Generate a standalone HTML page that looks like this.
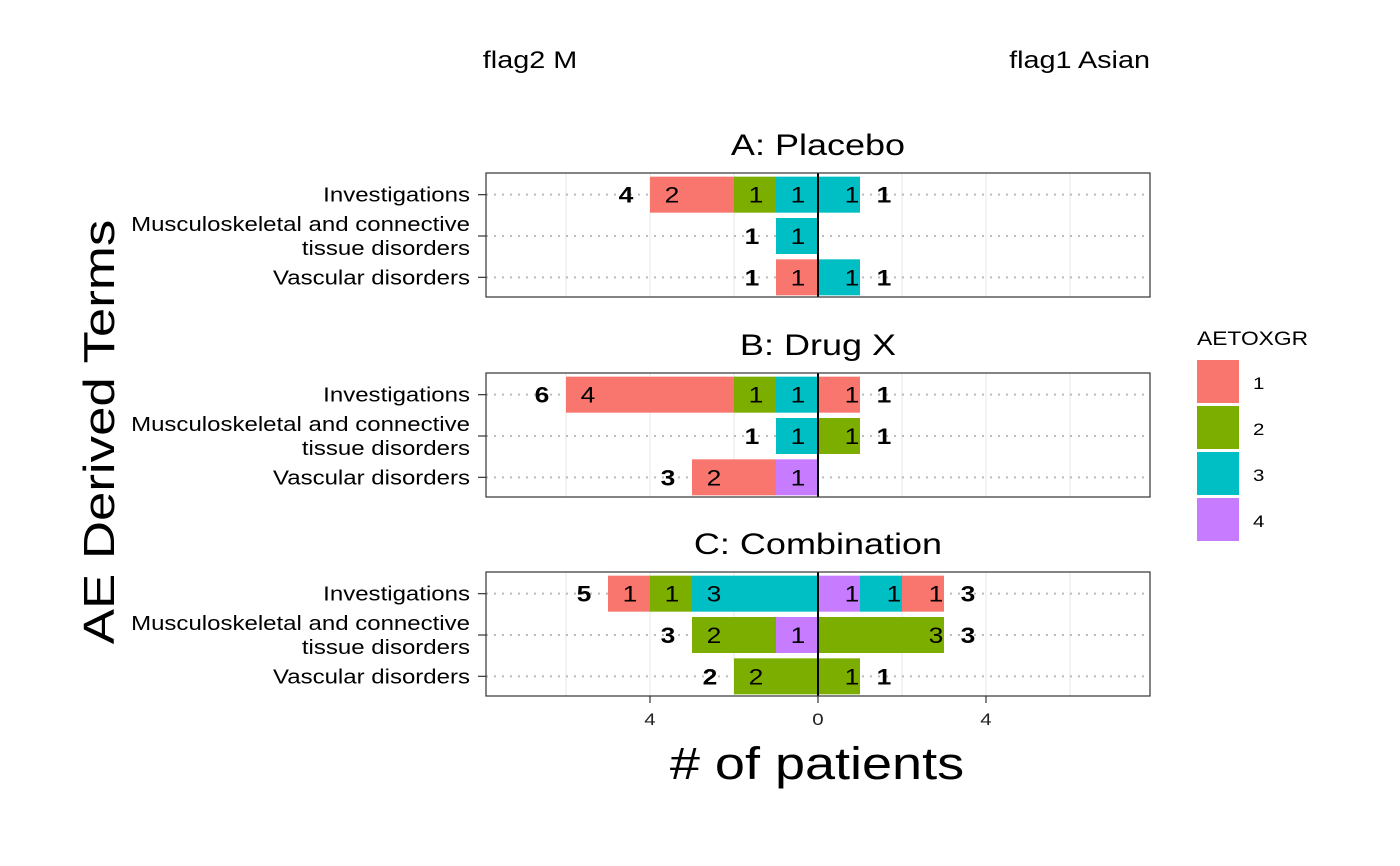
<!DOCTYPE html>
<html><head><meta charset="utf-8"><style>
html,body{margin:0;padding:0;background:#fff;}
svg{display:block;font-family:"Liberation Sans",Arial,sans-serif;}
</style></head><body>
<svg id="chart" width="1400" height="866" viewBox="0 0 1400 866">
<text class="st" x="530" y="68" font-size="24" text-anchor="middle">flag2 M</text>
<text class="st" x="1150" y="68" font-size="24" text-anchor="end">flag1 Asian</text>
<text class="st" transform="translate(114,432) rotate(-90)" font-size="44" text-anchor="middle">AE Derived Terms</text>
<text class="st" x="817" y="779" font-size="45" text-anchor="middle"># of patients</text>
<g>
<text class="st" x="1197" y="345" font-size="19">AETOXGR</text>
</g>
</svg>
<script>
const panels = ["A: Placebo","B: Drug X","C: Combination"];
const terms = ["Investigations","Musculoskeletal and connective|tissue disorders","Vascular disorders"];
const grades = ["1","2","3","4"];
const gradeColors = ["#F8766D","#7CAE00","#00BFC4","#C77CFF"];
const leftCounts = [
  [[2,1,1,0],[0,0,1,0],[1,0,0,0]],
  [[4,1,1,0],[0,0,1,0],[2,0,0,1]],
  [[1,1,3,0],[0,2,0,1],[0,2,0,0]]
];
const rightCounts = [
  [[0,0,1,0],[0,0,0,0],[0,0,1,0]],
  [[1,0,0,0],[0,1,0,0],[0,0,0,0]],
  [[1,0,1,1],[0,3,0,0],[0,1,0,0]]
];
const xTicks = [-4,0,4];
const xTickLabels = ["4","0","4"];
const gridVals = [-6,-4,-2,2,4,6];

const svg = document.getElementById('chart');
const NS = "http://www.w3.org/2000/svg";
const X0 = 818, UNIT = 42, PL = 486, PR = 1150;
const panelTops = [173,373,572], PH = 124;
const xs = v => X0 + v*UNIT;
function mk(tag, attrs, parent){ const e=document.createElementNS(NS,tag); for(const k in attrs) e.setAttribute(k,attrs[k]); (parent||svg).appendChild(e); if(tag==='text') e.classList.add('st'); return e; }
function ty(p,i){ return panelTops[p] + PH*(i+0.5)/3 + 1; }

panels.forEach((title,p)=>{
  const top = panelTops[p];
  const g = mk('g',{});
  
  
  const t = mk('text',{x:818,y:top-18,'font-size':30,'text-anchor':'middle'},g);
  t.textContent = title;
  
  
  gridVals.forEach(v=>{
    const l = mk('line',{x1:xs(v),x2:xs(v),y1:top,y2:top+PH,stroke:'#ebebeb','stroke-width':1.2},g);
    
    
  });
  terms.forEach((term,i)=>{
    const y = ty(p,i);
    const hl = mk('line',{x1:PL,x2:PR,y1:y,y2:y,stroke:'#bbb','stroke-width':2,'stroke-dasharray':'2,6'},g);
    
    
    mk('line',{x1:PL-8,x2:PL,y1:y,y2:y,stroke:'#333','stroke-width':1.2},g);
    const parts = term.split('|');
    parts.forEach((s,k)=>{
      const tt = mk('text',{x:470,y:y+7+(k-(parts.length-1)/2)*24,'font-size':20,'text-anchor':'end'},g);
      tt.textContent = s;
      
      
    });
    const bh = 36;
    let cum = 0;
    for(let gi=3; gi>=0; gi--){
      const v = leftCounts[p][i][gi]; if(!v) continue;
      const r = mk('rect',{x:xs(-(cum+v)),y:y-bh/2,width:v*UNIT,height:bh,fill:gradeColors[gi]},g);
      
      
      const lb = mk('text',{x:xs(-(cum+v))+22,y:y+8,'font-size':22,'text-anchor':'middle'},g);
      lb.textContent = v;
      
      
      cum += v;
    }
    if(cum){
      const tl = mk('text',{x:xs(-cum)-24,y:y+8,'font-size':22,'font-weight':'bold','text-anchor':'middle'},g);
      tl.textContent = cum;
      
      
    }
    cum = 0;
    for(let gi=3; gi>=0; gi--){
      const v = rightCounts[p][i][gi]; if(!v) continue;
      const r = mk('rect',{x:xs(cum),y:y-bh/2,width:v*UNIT,height:bh,fill:gradeColors[gi]},g);
      
      
      const lb = mk('text',{x:xs(cum+v)-8,y:y+8,'font-size':22,'text-anchor':'middle'},g);
      lb.textContent = v;
      
      
      cum += v;
    }
    if(cum){
      const tr = mk('text',{x:xs(cum)+24,y:y+8,'font-size':22,'font-weight':'bold','text-anchor':'middle'},g);
      tr.textContent = cum;
      
      
    }
  });
  const z = mk('line',{x1:X0,x2:X0,y1:top,y2:top+PH,stroke:'#000','stroke-width':2},g);
  
  
  const b = mk('rect',{x:PL,y:top,width:PR-PL,height:PH,fill:'none',stroke:'#333','stroke-width':1.2},g);
  
  
});
xTicks.forEach((v,i)=>{
  const yb = panelTops[2]+PH;
  mk('line',{x1:xs(v),x2:xs(v),y1:yb,y2:yb+7,stroke:'#333','stroke-width':1.2});
  const t = mk('text',{x:xs(v),y:yb+29,'font-size':17,fill:'#222','text-anchor':'middle'});
  t.textContent = xTickLabels[i];
  
  
});
grades.forEach((gname,i)=>{
  const y = 360 + i*46;
  const r = mk('rect',{x:1197,y:y,width:42,height:43,fill:gradeColors[i]});
  
  
  const t = mk('text',{x:1253,y:y+29,'font-size':17});
  t.textContent = gname;
  
  
});
// widen text to approximate Helvetica metrics
document.querySelectorAll('text.st').forEach(t=>{
  const w = t.getComputedTextLength();
  if(w>0){
    t.setAttribute('textLength', (w*1.2).toFixed(1));
    t.setAttribute('lengthAdjust','spacingAndGlyphs');
  }
});
</script>
</body></html>
